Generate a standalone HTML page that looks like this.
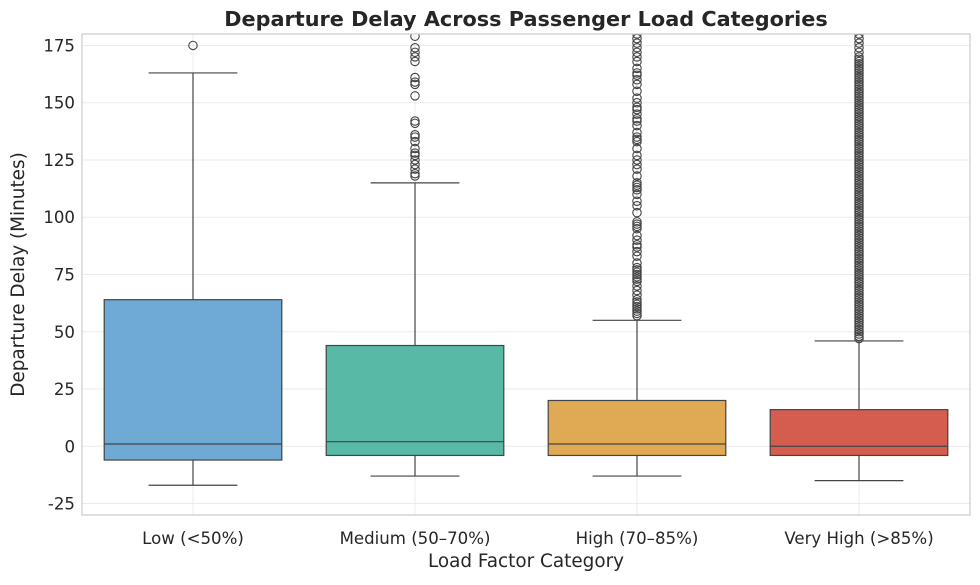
<!DOCTYPE html>
<html><head><meta charset="utf-8">
<style>
body{margin:0;background:#fff;font-family:"Liberation Sans","DejaVu Sans",sans-serif;}
svg text{font-family:"DejaVu Sans","Liberation Sans",sans-serif;fill:#262626;}
</style></head>
<body>
<svg id="chart" width="980" height="580" xmlns="http://www.w3.org/2000/svg"></svg>
<script>
const categories=["Low (<50%)","Medium (50–70%)","High (70–85%)","Very High (>85%)"];
const q1=[-6,-4,-4,-4];
const medians=[1,2,1,0];
const q3=[64,44,20,16];
const whiskLo=[-17,-13,-13,-15];
const whiskHi=[163,115,55,46];
const colors=["#6eaad4","#58b9a6","#e0aa55","#d45d4f"];
const outliersLow=[175];
const outliersMed=[118,119,121,123,125,127,128,130,133,135,136,141,142,153,158,159,161,168,170,172,174,179];
const outliersHigh=[57,58,59,60,61,62,63,64,66,68,70,72,73,74,75,76,77,78,80,83,85,87,88,90,92,95,96,97,98,102,105,107,110,112,113,114,115,118,121,123,125,127,130,133,134,135,137,140,142,143,145,147,148,150,152,155,158,160,162,163,165,168,170,172,174,176,178,180];
const outliersVH=[47,48,49,50,51,52,53,54,55,56,57,58,59,60,61,62,63,64,65,66,67,68,69,70,71,72,73,74,75,76,77,78,79,80,81,82,83,84,85,86,87,88,89,90,91,92,93,94,95,96,97,98,99,100,101,102,103,104,105,106,107,108,109,110,111,112,113,114,115,116,117,118,119,120,121,122,123,124,125,126,127,128,129,130,131,132,133,134,135,136,137,138,139,140,141,142,143,144,145,146,147,148,149,150,151,152,153,154,155,156,157,158,159,160,161,162,163,164,165,166,167,168,169,170,172,174,176,178,180];
const outliers=[outliersLow,outliersMed,outliersHigh,outliersVH];
const yTicks=[-25,0,25,50,75,100,125,150,175];

const svg=document.getElementById('chart');
const NS="http://www.w3.org/2000/svg";
const L=82,R=970,T=34,B=515,yMin=-30,yMax=180;
const y=v=>B-(v-yMin)/(yMax-yMin)*(B-T);
const bw=(R-L)/categories.length;
const x=i=>L+bw*(i+0.5);
function mk(tag,at,parent){const e=document.createElementNS(NS,tag);for(const k in at)e.setAttribute(k,at[k]);(parent||svg).appendChild(e);return e;}

const grid=mk('g',{});


yTicks.forEach(t=>{mk('line',{x1:L,x2:R,y1:y(t),y2:y(t),stroke:'#ebebeb','stroke-width':1},grid);
 const tx=mk('text',{x:L-7,y:y(t)+6,'text-anchor':'end','font-size':16.6});tx.textContent=t;
 
 });
categories.forEach((c,i)=>{mk('line',{x1:x(i),x2:x(i),y1:T,y2:B,stroke:'#ebebeb','stroke-width':1},grid);
 const tx=mk('text',{x:x(i),y:B+29,'text-anchor':'middle','font-size':16.6});tx.textContent=c;
 
 });

const clip=mk('clipPath',{id:'pc'});mk('rect',{x:L,y:T,width:R-L,height:B-T},clip);
categories.forEach((c,i)=>{
 const g=mk('g',{'clip-path':'url(#pc)'});
 
 
 const cx=x(i),hw=bw*0.4,cw=hw*0.5,st='#444';
 mk('line',{x1:cx,x2:cx,y1:y(q3[i]),y2:y(whiskHi[i]),stroke:st,'stroke-width':1.2},g);
 mk('line',{x1:cx,x2:cx,y1:y(q1[i]),y2:y(whiskLo[i]),stroke:st,'stroke-width':1.2},g);
 mk('line',{x1:cx-cw,x2:cx+cw,y1:y(whiskHi[i]),y2:y(whiskHi[i]),stroke:st,'stroke-width':1.2},g);
 mk('line',{x1:cx-cw,x2:cx+cw,y1:y(whiskLo[i]),y2:y(whiskLo[i]),stroke:st,'stroke-width':1.2},g);
 mk('rect',{x:cx-hw,y:y(q3[i]),width:2*hw,height:y(q1[i])-y(q3[i]),fill:colors[i],stroke:st,'stroke-width':1.2},g);
 mk('line',{x1:cx-hw,x2:cx+hw,y1:y(medians[i]),y2:y(medians[i]),stroke:st,'stroke-width':1.2},g);
 outliers[i].forEach(v=>mk('circle',{cx:cx,cy:y(v),r:4.2,fill:'none',stroke:st,'stroke-width':1.1},g));
});
const fr=mk('rect',{x:L,y:T,width:R-L,height:B-T,fill:'none',stroke:'#cccccc','stroke-width':1.2});


const ti=mk('text',{x:(L+R)/2,y:26,'text-anchor':'middle','font-size':20.8,'font-weight':'bold'});ti.textContent='Departure Delay Across Passenger Load Categories';


const xl=mk('text',{x:(L+R)/2,y:567,'text-anchor':'middle','font-size':18.4});xl.textContent='Load Factor Category';


const yl=mk('text',{x:0,y:0,'text-anchor':'middle','font-size':18.4,transform:`translate(24,${(T+B)/2}) rotate(-90)`});yl.textContent='Departure Delay (Minutes)';


</script>
</body></html>
